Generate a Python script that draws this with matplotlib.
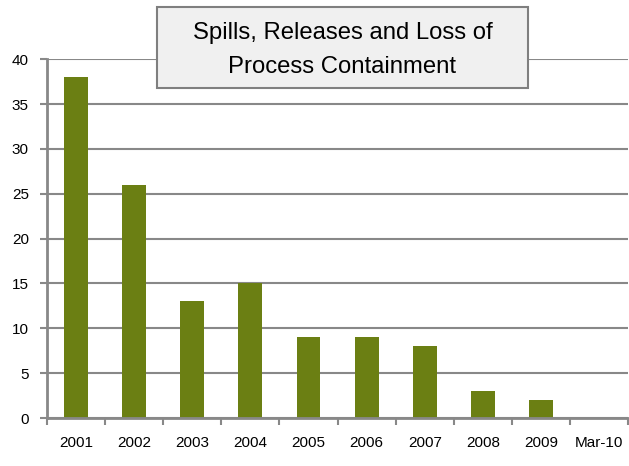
import numpy as np
import matplotlib.pyplot as plt
from matplotlib.patches import FancyBboxPatch

categories = ["2001", "2002", "2003", "2004", "2005", "2006", "2007", "2008", "2009", "Mar-10"]
counts = [38, 26, 13, 15, 9, 9, 8, 3, 2, 0]
y_ticks = [0, 5, 10, 15, 20, 25, 30, 35, 40]
title = "Spills, Releases and Loss of\nProcess Containment"

plt.rcParams['font.family'] = ['Liberation Sans', 'DejaVu Sans']

fig = plt.figure(figsize=(6.29, 4.66), dpi=100)
ax = fig.add_axes([0.0747, 0.103, 0.924, 0.770])

x = np.arange(len(categories))
ax.bar(x, counts, width=0.41, color="#6B7F13", zorder=2)

ax.set_xlim(-0.5, len(categories) - 0.5)
ax.set_ylim(0, 40)
ax.set_yticks(y_ticks)
ax.set_xticks(x)
ax.set_xticklabels(categories, fontsize=11)
ax.set_xticks(np.arange(-0.5, len(categories), 1), minor=True)
ax.tick_params(axis="x", which="major", length=0, pad=13)
ax.tick_params(axis="x", which="minor", length=5, width=1.5, color="#888888")
ax.tick_params(axis="y", length=5, width=1.5, color="#888888", labelsize=11, pad=8)

ax.grid(axis="y", color="#888888", linewidth=1.5, zorder=0)
ax.set_axisbelow(True)
for side in ["top", "right"]:
    ax.spines[side].set_visible(False)
for side in ["left", "bottom"]:
    ax.spines[side].set_color("#888888")
    ax.spines[side].set_linewidth(2)

# title box
box = FancyBboxPatch((157 / 629, 1 - 88 / 466), (528 - 157) / 629, (88 - 7) / 466,
                     boxstyle="square,pad=0", transform=fig.transFigure,
                     facecolor="#F0F0F0", edgecolor="#7F7F7F", linewidth=1.5, zorder=5)
fig.patches.append(box)
fig.text((157 + 528) / 2 / 629, 1 - 50 / 466, title, ha="center", va="center",
         fontsize=17.2, linespacing=1.75, zorder=6)

fig.savefig("out.png", dpi=100)
